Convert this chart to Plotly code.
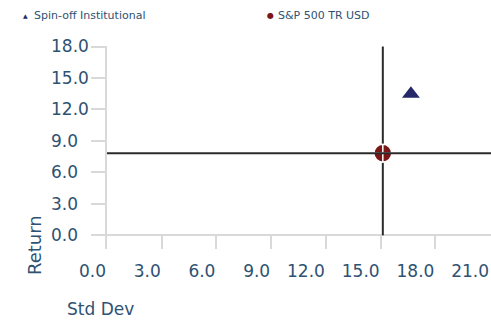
import plotly.graph_objects as go

# Risk / return data
series_names = ["Spin-off Institutional", "S&P 500 TR USD"]
std_dev = [16.66, 15.12]
returns = [13.48, 7.83]

# Axis ticks
x_ticks = [0, 3, 6, 9, 12, 15, 18, 21]
y_ticks = [0, 3, 6, 9, 12, 15, 18]
x_range = [0, 21.05]
y_range = [-1.3, 18.05]

W, H = 491, 320
PLOT_L, PLOT_T, PLOT_B = 107, 46, 249  # plot area edges in pixels
LABEL_T = 26                           # top of the (taller) label axis
LABEL_X = 47                           # left edge of the return labels

TEXT = "#2e5272"
AXIS = "#d9d9d9"
NAVY = "#242869"
RED = "#7a1518"
CROSS = "#2b2b2b"
FONT = "DejaVu Sans"

# the label axis spans more pixels, so its range grows by the same scale
label_range = [y_range[0],
               y_range[0] + (y_range[1] - y_range[0]) * (PLOT_B - LABEL_T) / (PLOT_B - PLOT_T)]


def px(x):
    return x / W


def py(y):
    return (PLOT_B - y) / (PLOT_B - LABEL_T)


fig = go.Figure()

# Benchmark crosshair (horizontal leg drawn against the label axis, same scale)
bx, by = std_dev[1], returns[1]
fig.add_trace(go.Scatter(x=[bx, bx], y=[y_ticks[0], y_ticks[-1]], mode="lines",
                         line=dict(color=CROSS, width=2), hoverinfo="skip", showlegend=False))
fig.add_trace(go.Scatter(x=[x_ticks[0], x_range[1]], y=[by, by], mode="lines", yaxis="y2",
                         line=dict(color=CROSS, width=2), hoverinfo="skip", showlegend=False))

# Points
fig.add_trace(go.Scatter(x=[std_dev[0]], y=[returns[0]], mode="markers", name=series_names[0],
                         marker=dict(symbol="triangle-up", size=15.5, color=NAVY, line=dict(width=0)),
                         showlegend=False))
fig.add_trace(go.Scatter(x=[std_dev[1]], y=[returns[1]], mode="markers", name=series_names[1],
                         marker=dict(symbol="circle-cross", size=18, color=RED,
                                     line=dict(color="white", width=1.5)),
                         showlegend=False))

annotations = [
    # legend
    dict(x=px(25), y=py(15.5), text="▲", font=dict(family=FONT, size=6, color=NAVY),
         xanchor="center", yanchor="middle"),
    dict(x=px(31.5), y=py(15.5), text=series_names[0], font=dict(family=FONT, size=11, color=TEXT),
         xanchor="left", yanchor="middle"),
    dict(x=px(270), y=py(15.5), text="●", font=dict(family=FONT, size=8, color=RED),
         xanchor="center", yanchor="middle"),
    dict(x=px(276), y=py(15.5), text=series_names[1], font=dict(family=FONT, size=11, color=TEXT),
         xanchor="left", yanchor="middle"),
    # axis titles
    dict(x=px(34), y=py(245), text="Return", textangle=-90, font=dict(family=FONT, size=18, color=TEXT),
         xanchor="center", yanchor="middle"),
    dict(x=px(65), y=py(309), text="Std Dev", font=dict(family=FONT, size=17, color=TEXT),
         xanchor="left", yanchor="middle"),
]
for a in annotations:
    a.update(xref="paper", yref="paper", showarrow=False)

tick_font = dict(family=FONT, size=17, color=TEXT)

fig.update_layout(
    width=W, height=H,
    margin=dict(l=0, r=0, t=LABEL_T, b=H - PLOT_B, autoexpand=False),
    paper_bgcolor="white", plot_bgcolor="rgba(0,0,0,0)",
    font=dict(family=FONT, color=TEXT),
    annotations=annotations,
    xaxis=dict(domain=[PLOT_L / W, 1], range=x_range, tickvals=x_ticks,
               ticktext=[f"{v:.1f}" for v in x_ticks],
               ticks="inside", ticklen=14, tickwidth=2, tickcolor=AXIS,
               ticklabelposition="outside left", ticklabelstandoff=10,
               showgrid=False, showline=False, zeroline=False,
               tickfont=tick_font, fixedrange=True, automargin=False),
    # axis line, tick marks and the zero line of the plot
    yaxis=dict(domain=[0, (PLOT_B - PLOT_T) / (PLOT_B - LABEL_T)],
               range=y_range, tickvals=y_ticks, showticklabels=False,
               ticks="outside", ticklen=14, tickwidth=2, tickcolor=AXIS,
               showline=True, linecolor=AXIS, linewidth=2,
               showgrid=False, zeroline=True, zerolinecolor=AXIS, zerolinewidth=2,
               fixedrange=True, automargin=False),
    # left-aligned return labels
    yaxis2=dict(domain=[0, 1], anchor="free", position=LABEL_X / W, side="left",
                range=label_range, tickvals=y_ticks, ticktext=[f"{v:.1f}" for v in y_ticks],
                ticks="", ticklabelposition="inside", showgrid=False, showline=False, zeroline=False,
                tickfont=tick_font, fixedrange=True, automargin=False),
)

fig.write_html("out.html", config={"displayModeBar": False})
